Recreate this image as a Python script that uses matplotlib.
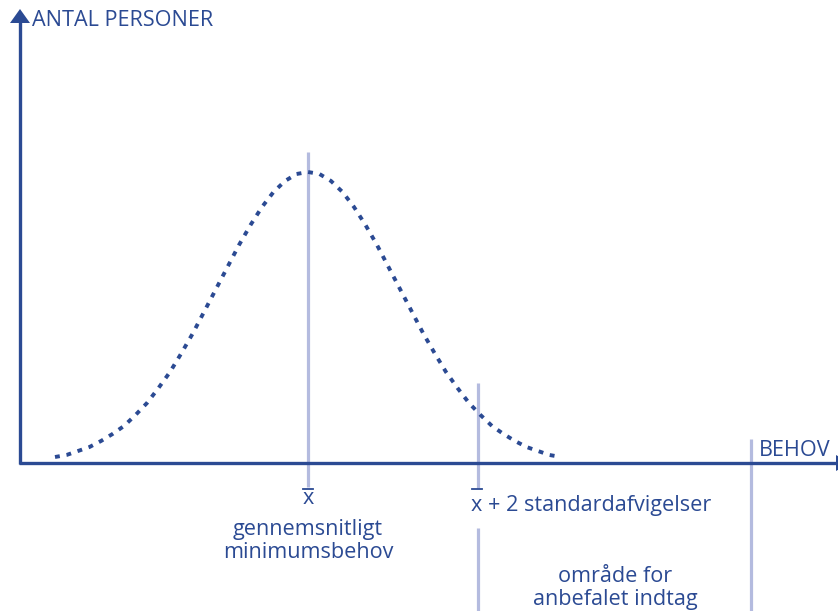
import numpy as np
import matplotlib.pyplot as plt
from matplotlib.patches import Polygon

# diagram laid out in pixel units (0..838 wide, 0..611 tall, y downwards)
mean_x = 308
sd2_x = 478
upper_x = 751
axis_y = 463

# dotted normal curve: offsets from the mean and heights above the x-axis
half_dx = [0, 11.5, 23, 34.5, 46, 57.5, 69, 80.5, 92, 103.5, 115, 126.5,
           138, 149.5, 161, 172.5, 184, 195.5, 207, 218.5, 230, 241.5, 253]
half_h = [291, 289, 282, 271, 256, 238, 218, 196, 174, 152, 130, 110,
          91, 75, 60, 48, 37, 29, 22, 16, 12, 8, 6]

dark = '#2b4a93'
light = '#b4bbdf'
font = ['Open Sans', 'DejaVu Sans']

fig = plt.figure(figsize=(8.38, 6.11), dpi=100)
ax = fig.add_axes([0, 0, 1, 1])
ax.set_xlim(0, 838)
ax.set_ylim(611, 0)
ax.axis('off')

# light vertical markers
ax.plot([mean_x, mean_x], [152, 487], color=light, lw=2.3, solid_capstyle='butt', zorder=1)
ax.plot([sd2_x, sd2_x], [383, 488], color=light, lw=2.3, solid_capstyle='butt', zorder=1)
ax.plot([sd2_x, sd2_x], [528, 611], color=light, lw=2.3, solid_capstyle='butt', zorder=1)
ax.plot([upper_x, upper_x], [439, 611], color=light, lw=2.3, solid_capstyle='butt', zorder=1)

# axes with arrows
ax.plot([20, 20], [axis_y + 1, 20], color=dark, lw=2.4, solid_capstyle='butt', zorder=2)
ax.plot([19, 838], [axis_y, axis_y], color=dark, lw=2.4, solid_capstyle='butt', zorder=2)
ax.add_patch(Polygon([[20, 9], [10, 23], [30, 23]], closed=True, color=dark, lw=0, zorder=3))
ax.add_patch(Polygon([[850, axis_y], [836, axis_y - 8], [836, axis_y + 8]], closed=True,
                     color=dark, lw=0, zorder=3))

# curve (symmetric about the mean)
dx = np.concatenate([-np.array(half_dx[::-1]), np.array(half_dx[1:])])
h = np.concatenate([np.array(half_h[::-1]), np.array(half_h[1:])])
ax.plot(mean_x + dx, axis_y - h, color=dark, lw=2.8, linestyle=(0, (1.25, 1.75)),
        dash_capstyle='butt', zorder=4)

# labels
fs = 15.6
kw = dict(color=dark, fontsize=fs, family=font, va='center')
ax.text(32, 21, 'ANTAL PERSONER', ha='left', **kw)
ax.text(759, 450, 'BEHOV', ha='left', **kw)

ax.text(mean_x, 499, 'x', ha='center', **kw)
ax.plot([mean_x - 5, mean_x + 5], [489, 489], color=dark, lw=1.3)
ax.text(mean_x, 530, 'gennemsnitligt', ha='center', **kw)
ax.text(mean_x, 553, 'minimumsbehov', ha='center', **kw)

ax.text(471, 506, 'x + 2 standardafvigelser', ha='left', **kw)
ax.plot([472, 482], [489, 489], color=dark, lw=1.3)
ax.text(615, 577, 'område for', ha='center', **kw)
ax.text(615, 600, 'anbefalet indtag', ha='center', **kw)

fig.savefig('out.png', dpi=100, facecolor='white')
